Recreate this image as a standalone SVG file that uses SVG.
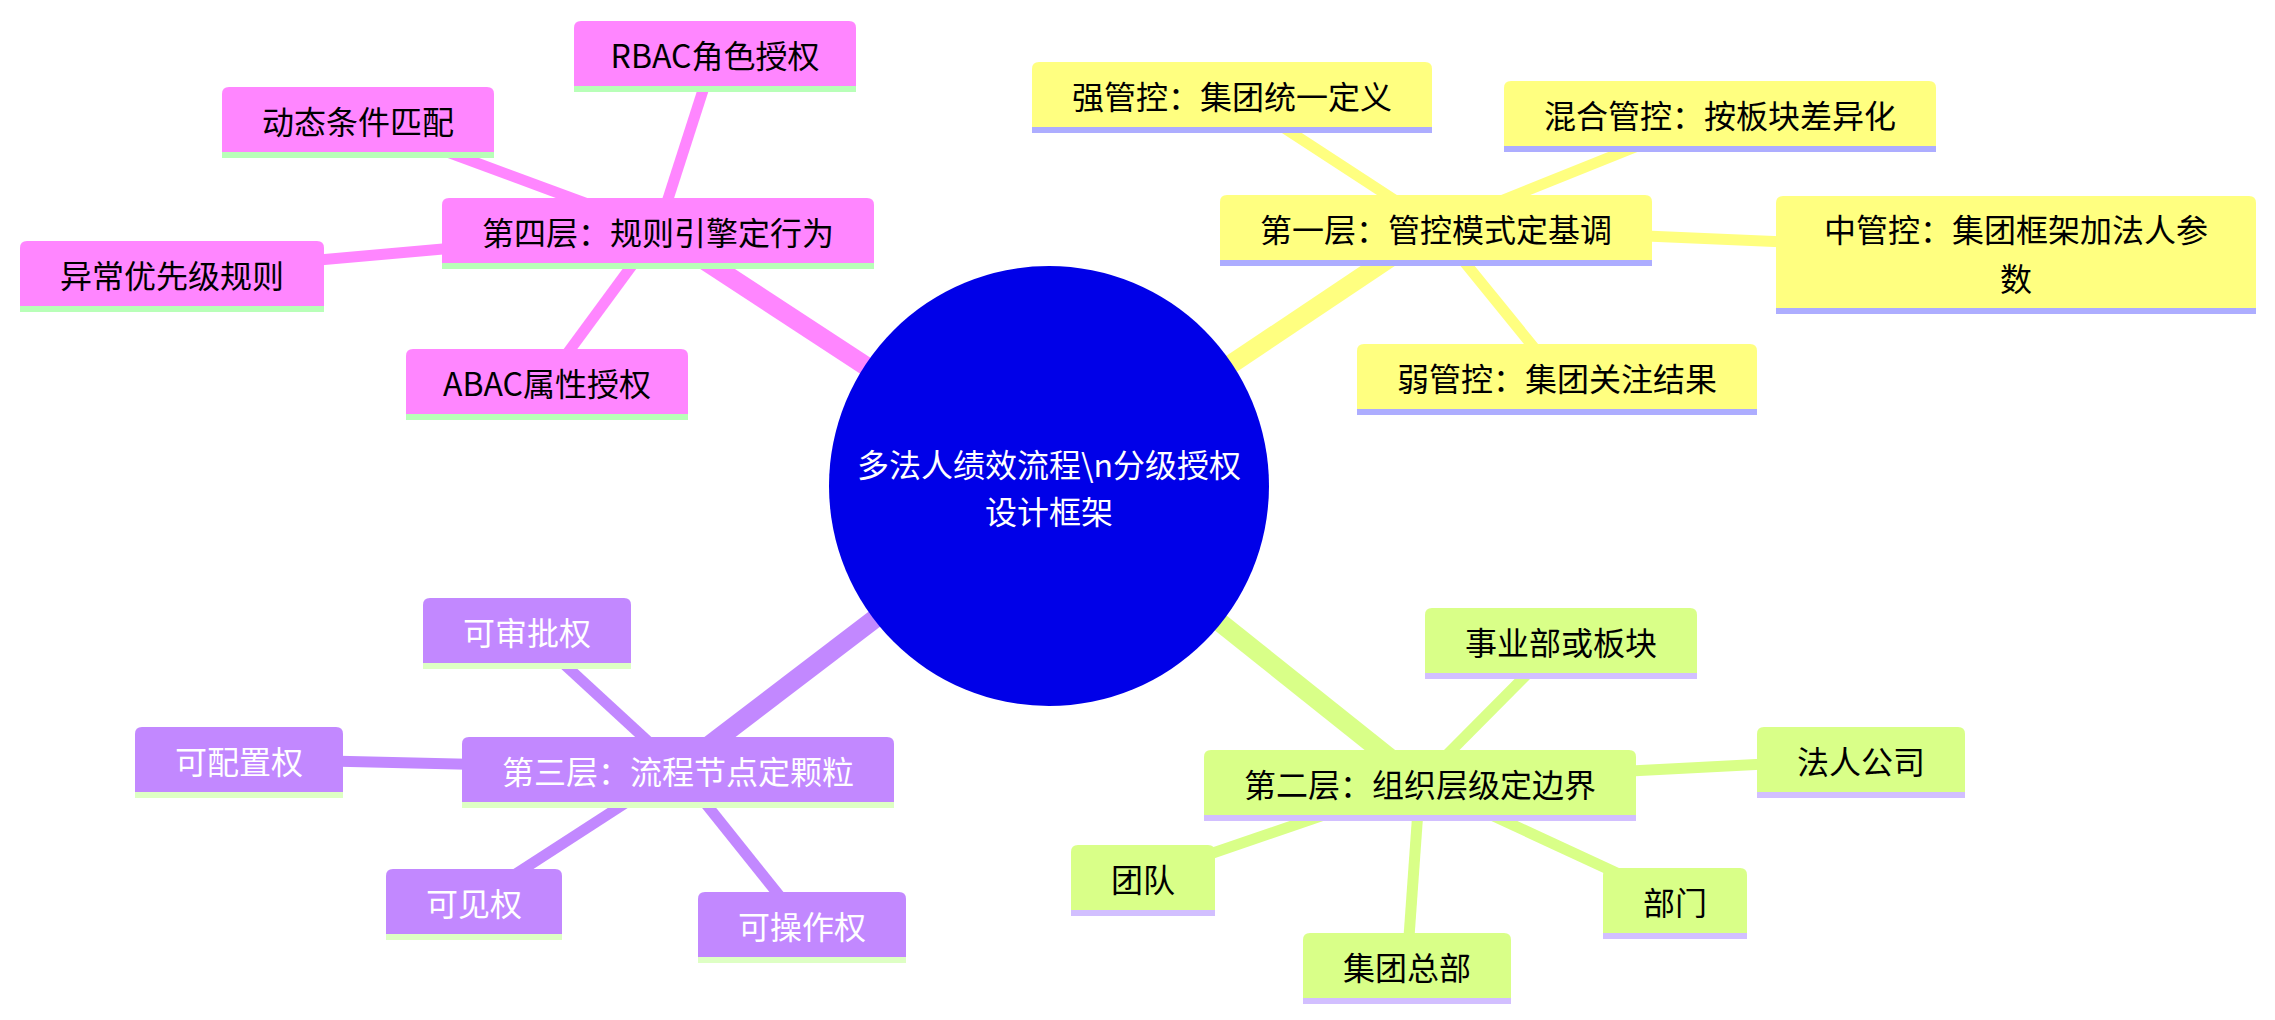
<svg xmlns="http://www.w3.org/2000/svg" width="2275" height="1020" viewBox="0 0 2275 1020">
<style>
text{font-family:"Noto Sans CJK SC","Noto Sans",sans-serif;font-size:32px;text-anchor:middle;dominant-baseline:central;fill:#000}
.p{fill:#FF86FF}.ps{fill:#B8FFB8}
.y{fill:#FFFF80}.ys{fill:#ADADFF}
.g{fill:#D9FF88}.gs{fill:#D2BFFF}
.u{fill:#C288FF}.us{fill:#DEFFC4}
.u text,text.w{fill:#fff}
.e0{stroke-width:19;fill:none}
.e1{stroke-width:11;fill:none}
.lp{stroke:#FF86FF}.ly{stroke:#FFFF80}.lg{stroke:#D9FF88}.lu{stroke:#C288FF}
</style>
<rect width="2275" height="1020" fill="#fff"/>
<g id="connectors">
<line class="e0 lp" x1="1049" y1="486" x2="658" y2="230"/>
<line class="e1 lp" x1="658" y1="230" x2="715" y2="53"/>
<line class="e1 lp" x1="658" y1="230" x2="358" y2="119"/>
<line class="e1 lp" x1="658" y1="230" x2="172" y2="273"/>
<line class="e1 lp" x1="658" y1="230" x2="547" y2="381"/>
<line class="e0 ly" x1="1049" y1="486" x2="1436" y2="227"/>
<line class="e1 ly" x1="1436" y1="227" x2="1232" y2="94"/>
<line class="e1 ly" x1="1436" y1="227" x2="1720" y2="113"/>
<line class="e1 ly" x1="1436" y1="227" x2="2016" y2="252"/>
<line class="e1 ly" x1="1436" y1="227" x2="1557" y2="376"/>
<line class="e0 lg" x1="1049" y1="486" x2="1420" y2="782"/>
<line class="e1 lg" x1="1420" y1="782" x2="1561" y2="640"/>
<line class="e1 lg" x1="1420" y1="782" x2="1861" y2="759"/>
<line class="e1 lg" x1="1420" y1="782" x2="1143" y2="877"/>
<line class="e1 lg" x1="1420" y1="782" x2="1675" y2="900"/>
<line class="e1 lg" x1="1420" y1="782" x2="1407" y2="965"/>
<line class="e0 lu" x1="1049" y1="486" x2="678" y2="769"/>
<line class="e1 lu" x1="678" y1="769" x2="527" y2="630"/>
<line class="e1 lu" x1="678" y1="769" x2="239" y2="759"/>
<line class="e1 lu" x1="678" y1="769" x2="474" y2="901"/>
<line class="e1 lu" x1="678" y1="769" x2="802" y2="924"/>
</g>
<g id="root">
<circle cx="1049" cy="486" r="220" fill="#0000E8"/>
<text class="w" x="1049" y="463">多法人绩效流程\n分级授权</text>
<text class="w" x="1049" y="510">设计框架</text>
</g>
<g id="n-layer4"><path class="p" d="M442,263v-58q0,-7 7,-7h418q7,0 7,7v58z"/><rect class="ps" x="442" y="263" width="432" height="6"/><text x="658" y="230.5">第四层：规则引擎定行为</text></g>
<g id="n-rbac"><path class="p" d="M574,86v-58q0,-7 7,-7h268q7,0 7,7v58z"/><rect class="ps" x="574" y="86" width="282" height="6"/><text x="715" y="53.5">RBAC角色授权</text></g>
<g id="n-dynamic"><path class="p" d="M222,152v-58q0,-7 7,-7h258q7,0 7,7v58z"/><rect class="ps" x="222" y="152" width="272" height="6"/><text x="358" y="119.5">动态条件匹配</text></g>
<g id="n-exception"><path class="p" d="M20,306v-58q0,-7 7,-7h290q7,0 7,7v58z"/><rect class="ps" x="20" y="306" width="304" height="6"/><text x="172" y="273.5">异常优先级规则</text></g>
<g id="n-abac"><path class="p" d="M406,414v-58q0,-7 7,-7h268q7,0 7,7v58z"/><rect class="ps" x="406" y="414" width="282" height="6"/><text x="547" y="381.5">ABAC属性授权</text></g>
<g id="n-layer1"><path class="y" d="M1220,260v-58q0,-7 7,-7h418q7,0 7,7v58z"/><rect class="ys" x="1220" y="260" width="432" height="6"/><text x="1436" y="227.5">第一层：管控模式定基调</text></g>
<g id="n-strong"><path class="y" d="M1032,127v-58q0,-7 7,-7h386q7,0 7,7v58z"/><rect class="ys" x="1032" y="127" width="400" height="6"/><text x="1232" y="94.5">强管控：集团统一定义</text></g>
<g id="n-mixed"><path class="y" d="M1504,146v-58q0,-7 7,-7h418q7,0 7,7v58z"/><rect class="ys" x="1504" y="146" width="432" height="6"/><text x="1720" y="113.5">混合管控：按板块差异化</text></g>
<g id="n-medium"><path class="y" d="M1776,308v-105q0,-7 7,-7h466q7,0 7,7v105z"/><rect class="ys" x="1776" y="308" width="480" height="6"/><text x="2016" y="228">中管控：集团框架加法人参</text><text x="2016" y="277">数</text></g>
<g id="n-weak"><path class="y" d="M1357,409v-58q0,-7 7,-7h386q7,0 7,7v58z"/><rect class="ys" x="1357" y="409" width="400" height="6"/><text x="1557" y="376.5">弱管控：集团关注结果</text></g>
<g id="n-layer2"><path class="g" d="M1204,815v-58q0,-7 7,-7h418q7,0 7,7v58z"/><rect class="gs" x="1204" y="815" width="432" height="6"/><text x="1420" y="782.5">第二层：组织层级定边界</text></g>
<g id="n-bu"><path class="g" d="M1425,673v-58q0,-7 7,-7h258q7,0 7,7v58z"/><rect class="gs" x="1425" y="673" width="272" height="6"/><text x="1561" y="640.5">事业部或板块</text></g>
<g id="n-legal"><path class="g" d="M1757,792v-58q0,-7 7,-7h194q7,0 7,7v58z"/><rect class="gs" x="1757" y="792" width="208" height="6"/><text x="1861" y="759.5">法人公司</text></g>
<g id="n-team"><path class="g" d="M1071,910v-58q0,-7 7,-7h130q7,0 7,7v58z"/><rect class="gs" x="1071" y="910" width="144" height="6"/><text x="1143" y="877.5">团队</text></g>
<g id="n-dept"><path class="g" d="M1603,933v-58q0,-7 7,-7h130q7,0 7,7v58z"/><rect class="gs" x="1603" y="933" width="144" height="6"/><text x="1675" y="900.5">部门</text></g>
<g id="n-hq"><path class="g" d="M1303,998v-58q0,-7 7,-7h194q7,0 7,7v58z"/><rect class="gs" x="1303" y="998" width="208" height="6"/><text x="1407" y="965.5">集团总部</text></g>
<g id="n-layer3" class="u"><path d="M462,802v-58q0,-7 7,-7h418q7,0 7,7v58z"/><rect class="us" x="462" y="802" width="432" height="6"/><text x="678" y="769.5">第三层：流程节点定颗粒</text></g>
<g id="n-approve" class="u"><path d="M423,663v-58q0,-7 7,-7h194q7,0 7,7v58z"/><rect class="us" x="423" y="663" width="208" height="6"/><text x="527" y="630.5">可审批权</text></g>
<g id="n-config" class="u"><path d="M135,792v-58q0,-7 7,-7h194q7,0 7,7v58z"/><rect class="us" x="135" y="792" width="208" height="6"/><text x="239" y="759.5">可配置权</text></g>
<g id="n-visible" class="u"><path d="M386,934v-58q0,-7 7,-7h162q7,0 7,7v58z"/><rect class="us" x="386" y="934" width="176" height="6"/><text x="474" y="901.5">可见权</text></g>
<g id="n-operate" class="u"><path d="M698,957v-58q0,-7 7,-7h194q7,0 7,7v58z"/><rect class="us" x="698" y="957" width="208" height="6"/><text x="802" y="924.5">可操作权</text></g>
</svg>
